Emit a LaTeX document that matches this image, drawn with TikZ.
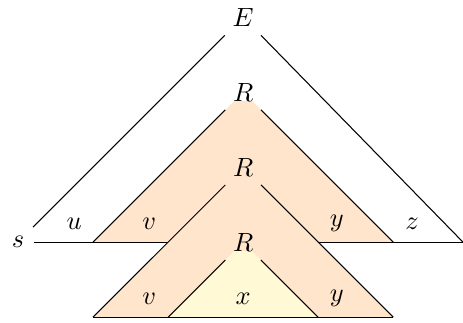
\documentclass[tikz,border=0pt]{standalone}
\usepackage{amsmath}
\usepackage{tikz}

\definecolor{paleyellow}{RGB}{255,249,213}

\begin{document}
\begin{tikzpicture}[
    apex/.style = {inner sep=0pt, outer sep=0.3333em},
    outer part/.style = {fill=orange!20},
    inner part/.style = {fill=paleyellow}
  ]
  \useasboundingbox (-3.24,-1.067) rectangle (2.93,3.227);

  % corners of the triangles
  \coordinate (zend) at (2.93,0);
  \coordinate (top1) at (0,2);
  \coordinate (top2) at (0,1);
  \coordinate (top3) at (0,0);
  \coordinate (left1) at (-2,0);
  \coordinate (right1) at (2,0);
  \coordinate (left2) at (-2,-1);
  \coordinate (right2) at (2,-1);
  \coordinate (left3) at (-1,-1);
  \coordinate (right3) at (1,-1);

  % outer tree
  \fill[outer part] (top1) -- (left1) -- (right1) -- cycle;
  \node (E) at (0,3) {$E$};
  \node (s) at (-3,0) {$s$};
  \node[apex, fill=white] (R1) at (top1) {$R$};
  \draw (E) -- (s);
  \draw (E) -- (zend);
  \draw (s) -- (zend);
  \draw (R1) -- (left1);
  \draw (R1) -- (right1);

  % middle tree
  \fill[outer part] (top2) -- (left2) -- (right2) -- cycle;
  \node[apex, outer part] (R2) at (top2) {$R$};
  \draw (R2) -- (left2);
  \draw (R2) -- (right2);

  % inner tree
  \fill[inner part] (top3) -- (left3) -- (right3) -- cycle;
  \node[apex, outer part] (R3) at (top3) {$R$};
  \draw (R3) -- (left3);
  \draw (R3) -- (right3);
  \draw (left2) -- (right2);

  % parts of the string
  \node (u) at (-2.25,0.25) {$u$};
  \node (v1) at (-1.25,0.25) {$v$};
  \node (y1) at (1.25,0.25) {$y$};
  \node (z) at (2.25,0.25) {$z$};
  \node (v2) at (-1.25,-0.75) {$v$};
  \node (x) at (0,-0.75) {$x$};
  \node (y2) at (1.25,-0.75) {$y$};
\end{tikzpicture}
\end{document}
